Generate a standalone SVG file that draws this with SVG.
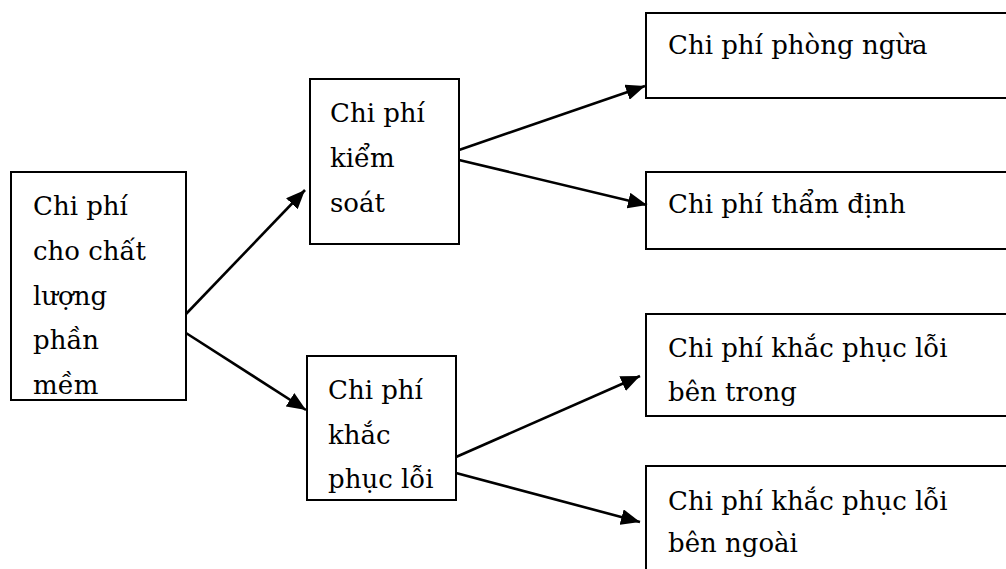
<svg xmlns="http://www.w3.org/2000/svg" width="1006" height="569" viewBox="0 0 1006 569">
  <style>
    .box { fill: #fff; stroke: #000; stroke-width: 2; }
    .lbl { font-family: "DejaVu Serif", "Liberation Serif", serif; font-size: 26px; fill: #000; }
    .edge { stroke: #000; stroke-width: 2.6; fill: none; marker-end: url(#arrow); }
  </style>
  <defs>
    <marker id="arrow" markerUnits="userSpaceOnUse" markerWidth="20" markerHeight="16" refX="19" refY="8" orient="auto">
      <path d="M0,0 L19,8 L0,16 Z" fill="#000"/>
    </marker>
  </defs>
  <rect width="1006" height="569" fill="#fff"/>

  <!-- root cost -->
  <g id="node-root">
    <rect class="box" x="11" y="172" width="175" height="228"/>
    <text class="lbl" x="33" y="215">Chi phí</text>
    <text class="lbl" x="33" y="260">cho chất</text>
    <text class="lbl" x="33" y="305">lượng</text>
    <text class="lbl" x="33" y="349">phần</text>
    <text class="lbl" x="33" y="394">mềm</text>
  </g>

  <!-- control costs -->
  <g id="node-control">
    <rect class="box" x="310" y="79" width="149" height="165"/>
    <text class="lbl" x="330" y="122">Chi phí</text>
    <text class="lbl" x="330" y="167">kiểm</text>
    <text class="lbl" x="330" y="212">soát</text>
  </g>

  <!-- failure costs -->
  <g id="node-failure">
    <rect class="box" x="307" y="356" width="149" height="144"/>
    <text class="lbl" x="328" y="399">Chi phí</text>
    <text class="lbl" x="328" y="444">khắc</text>
    <text class="lbl" x="328" y="488">phục lỗi</text>
  </g>

  <g id="node-prevention">
    <rect class="box" x="646" y="13" width="380" height="85"/>
    <text class="lbl" x="668" y="54">Chi phí phòng ngừa</text>
  </g>

  <g id="node-appraisal">
    <rect class="box" x="646" y="172" width="380" height="77"/>
    <text class="lbl" x="668" y="213">Chi phí thẩm định</text>
  </g>

  <g id="node-internal">
    <rect class="box" x="646" y="314" width="380" height="102"/>
    <text class="lbl" x="668" y="357">Chi phí khắc phục lỗi</text>
    <text class="lbl" x="668" y="401">bên trong</text>
  </g>

  <g id="node-external">
    <rect class="box" x="646" y="466" width="380" height="200"/>
    <text class="lbl" x="668" y="510">Chi phí khắc phục lỗi</text>
    <text class="lbl" x="668" y="552">bên ngoài</text>
  </g>

  <!-- connectors -->
  <g id="connectors">
    <line class="edge" x1="186" y1="314" x2="305" y2="190"/>
    <line class="edge" x1="186" y1="333" x2="306" y2="410"/>
    <line class="edge" x1="459" y1="150" x2="645" y2="86"/>
    <line class="edge" x1="459" y1="160" x2="647" y2="205"/>
    <line class="edge" x1="456" y1="457" x2="640" y2="376"/>
    <line class="edge" x1="456" y1="473" x2="640" y2="522"/>
  </g>
</svg>
